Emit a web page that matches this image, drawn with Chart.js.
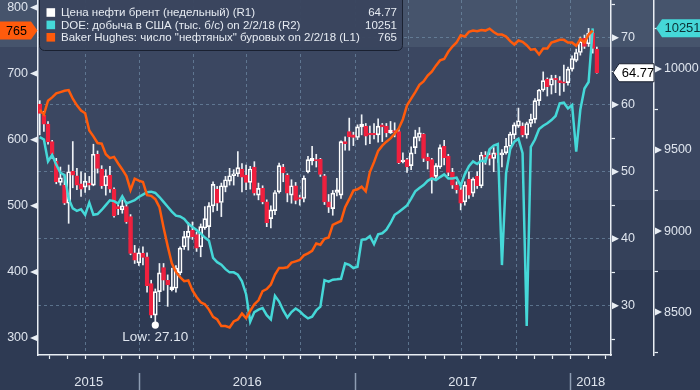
<!DOCTYPE html>
<html>
<head>
<meta charset="utf-8">
<script src="https://cdn.jsdelivr.net/npm/chart.js@4.4.1/dist/chart.umd.min.js"></script>
<style>
  html, body { margin: 0; padding: 0; background: #2e3a52; }
  #wrap { width: 700px; height: 390px; }
</style>
</head>
<body>
<div id="wrap"><canvas id="chart" width="700" height="390"></canvas></div>
<script>
// Brent, недельные свечи (неделя с 6.07.2015 по неделю 5.02.2018)
const BRENT_OPEN = [
  60.1, 58.4, 57.1, 54.5, 51.6, 48.4, 48.0, 45.3, 50.1, 49.4,
  48.2, 47.7, 48.3, 48.0, 52.6, 50.4, 47.9, 49.5, 47.4, 44.8,
  44.3, 44.8, 43.3, 37.9, 36.4, 37.8, 37.3, 33.3, 28.6, 32.1,
  35.7, 33.8, 32.4, 32.6, 34.9, 38.8, 40.2, 41.3, 40.6, 38.8,
  41.6, 41.8, 44.9, 47.4, 45.4, 47.7, 48.6, 49.4, 49.7, 50.4,
  49.5, 48.4, 50.7, 46.5, 47.5, 45.5, 43.0, 44.2, 47.0, 50.7,
  49.5, 46.5, 47.9, 46.1, 46.0, 50.0, 51.6, 51.8, 51.9, 49.4,
  45.5, 44.5, 46.9, 46.5, 54.5, 56.0, 55.5, 55.1, 56.7, 56.8,
  55.7, 55.7, 55.5, 57.0, 56.8, 55.8, 56.1, 56.0, 51.5, 51.8,
  50.9, 53.6, 55.1, 55.6, 52.2, 51.8, 49.3, 50.7, 53.8, 52.3,
  49.9, 48.0, 47.3, 45.5, 48.9, 46.8, 49.3, 47.9, 52.5, 52.5,
  52.0, 52.8, 52.5, 52.8, 53.8, 55.5, 56.8, 56.8, 55.5, 57.2,
  57.8, 60.6, 62.2, 63.8, 62.9, 63.9, 63.6, 63.4, 63.3, 65.3,
  66.6, 67.8, 69.9, 69.1, 70.7, 68.3
];
const BRENT_HIGH = [
  60.6, 59.0, 57.5, 54.7, 52.0, 50.7, 49.3, 51.0, 54.5, 50.5,
  50.0, 49.8, 49.3, 54.1, 53.1, 50.9, 50.3, 50.8, 47.6, 45.3,
  45.8, 45.5, 43.6, 39.0, 38.5, 38.8, 37.9, 33.8, 32.5, 36.3,
  36.3, 34.6, 35.6, 36.0, 38.8, 41.1, 42.4, 42.5, 41.0, 42.2,
  44.8, 45.4, 48.5, 47.8, 48.3, 49.3, 50.5, 50.3, 53.0, 51.2,
  51.0, 50.8, 51.5, 48.3, 47.9, 45.8, 44.9, 47.2, 51.3, 51.1,
  49.7, 48.8, 48.4, 46.5, 49.4, 52.3, 53.8, 52.6, 52.0, 49.6,
  46.6, 47.2, 49.0, 54.6, 55.2, 58.0, 55.9, 57.0, 58.5, 57.2,
  56.8, 57.2, 57.9, 57.2, 57.2, 57.5, 57.3, 56.3, 52.8, 52.0,
  53.7, 56.2, 56.6, 55.7, 52.7, 52.0, 51.2, 54.0, 54.7, 52.6,
  50.5, 48.5, 47.7, 48.5, 50.0, 49.1, 50.0, 52.9, 53.0, 53.3,
  53.6, 53.3, 53.3, 55.0, 55.9, 57.3, 59.5, 57.3, 57.4, 58.6,
  60.9, 62.3, 64.9, 64.0, 64.4, 64.4, 64.2, 65.9, 65.6, 67.3,
  68.3, 70.1, 70.4, 71.4, 71.1, 68.6
];
const BRENT_LOW = [
  55.5, 56.0, 54.1, 52.0, 48.2, 48.0, 45.1, 42.3, 47.6, 47.3,
  46.3, 46.9, 47.3, 47.9, 49.8, 47.5, 46.5, 46.9, 43.2, 43.6,
  43.8, 42.3, 37.6, 36.3, 36.0, 36.1, 32.0, 28.2, 27.1, 30.6,
  32.3, 29.9, 32.2, 32.0, 34.6, 38.4, 38.3, 39.9, 38.1, 37.3,
  41.4, 40.2, 44.0, 44.2, 43.3, 47.0, 48.0, 48.0, 49.3, 47.0,
  47.3, 47.4, 46.5, 45.8, 45.2, 41.8, 41.6, 43.6, 46.8, 48.5,
  45.5, 45.3, 45.2, 45.0, 45.5, 49.8, 51.0, 50.7, 49.3, 45.1,
  43.9, 43.5, 46.4, 46.0, 53.2, 53.2, 53.9, 54.8, 55.5, 54.0,
  54.2, 54.9, 54.4, 54.5, 55.2, 55.7, 55.2, 51.2, 51.3, 49.9,
  50.3, 52.7, 54.6, 51.5, 50.4, 46.8, 48.9, 50.5, 51.0, 49.4,
  47.5, 46.8, 44.3, 45.0, 46.0, 46.3, 47.5, 47.6, 51.1, 51.0,
  50.0, 51.4, 50.7, 52.6, 53.1, 54.9, 56.6, 55.2, 55.0, 56.7,
  57.3, 59.9, 62.0, 61.3, 61.6, 61.8, 61.4, 62.0, 62.9, 65.0,
  66.4, 67.4, 68.4, 68.7, 67.7, 64.7
];
const BRENT_CLOSE = [
  58.7, 57.1, 54.5, 52.6, 48.5, 49.1, 45.3, 50.0, 49.5, 48.0,
  47.4, 48.6, 48.0, 52.6, 50.5, 47.9, 49.4, 47.4, 43.4, 44.5,
  44.9, 42.5, 37.8, 36.8, 37.9, 37.2, 33.0, 28.6, 32.1, 34.9,
  33.8, 33.1, 32.8, 35.6, 38.6, 40.3, 41.1, 40.3, 38.6, 41.8,
  43.0, 44.9, 48.1, 45.3, 47.9, 48.8, 49.4, 49.7, 50.6, 49.2,
  48.4, 50.4, 46.8, 47.5, 45.5, 42.4, 44.3, 46.9, 50.9, 49.8,
  46.8, 47.9, 45.7, 45.9, 49.0, 51.8, 52.0, 51.6, 49.6, 45.5,
  44.7, 46.8, 47.3, 54.5, 54.2, 55.2, 55.1, 56.7, 57.1, 55.3,
  55.5, 55.5, 56.8, 56.7, 55.8, 56.2, 55.9, 51.3, 51.7, 50.7,
  52.8, 55.2, 55.8, 52.0, 51.6, 49.0, 50.9, 53.6, 52.1, 49.9,
  48.0, 47.3, 45.3, 48.0, 46.5, 48.9, 47.9, 52.5, 52.2, 52.0,
  52.8, 52.5, 52.8, 53.8, 55.6, 57.0, 57.6, 55.5, 57.2, 57.8,
  60.6, 62.2, 63.6, 62.7, 63.9, 63.7, 63.3, 63.2, 65.3, 66.9,
  67.8, 69.4, 68.7, 70.7, 68.4, 64.77
];

// Baker Hughes, нефтяные буровые (10.07.2015 - 2.02.2018)
const RIGS = [
  645, 638, 659, 664, 670, 672, 674, 675, 662, 652, 644, 640, 614,
  605, 595, 594, 578, 572, 574, 564, 555, 545, 524, 541, 538, 536,
  516, 515, 510, 498, 467, 439, 413, 400, 392, 386, 387, 372, 362,
  354, 351, 343, 332, 328, 318, 318, 316, 325, 328, 337, 330, 341,
  351, 357, 371, 374, 381, 396, 406, 406, 407, 414, 416, 418, 425,
  428, 432, 443, 441, 450, 452, 471, 474, 477, 498, 510, 523, 525,
  529, 522, 551, 566, 583, 591, 597, 602, 609, 617, 631, 652, 662,
  672, 683, 688, 697, 703, 712, 720, 722, 733, 741, 747, 758, 756,
  763, 765, 764, 766, 765, 768, 763, 759, 759, 756, 749, 744, 750,
  748, 743, 736, 737, 729, 738, 738, 747, 749, 751, 751, 747, 747,
  742, 752, 747, 759, 765
];

// DOE, добыча нефти в США, тыс. б/с
const DOE = [
  9580, 9565, 9430, 9470, 9410, 9360, 9345, 9200, 9140, 9125,
  9135, 9100, 9175, 9100, 9105, 9130, 9160, 9190, 9185, 9170,
  9215, 9170, 9180, 9190, 9210, 9225, 9240, 9243, 9235, 9210,
  9180, 9150, 9120, 9095, 9090, 9075, 9045, 9025, 9006, 8985,
  8960, 8940, 8835, 8808, 8792, 8765, 8745, 8745, 8730, 8690,
  8610, 8440, 8500, 8515, 8525, 8481, 8455, 8600, 8565, 8510,
  8467, 8500, 8522, 8505, 8480, 8461, 8471, 8510, 8533, 8697,
  8688, 8700, 8702, 8705, 8800, 8792, 8772, 8780, 8946, 8949,
  8968, 8920, 8980, 8986, 9008, 9050, 9100, 9118, 9138, 9158,
  9200, 9245, 9266, 9284, 9310, 9325, 9315, 9333, 9350, 9325,
  9325, 9330, 9280, 9350, 9400, 9430, 9414, 9435, 9428, 9505,
  9528, 9537, 8790, 9356, 9505, 9552, 9570, 9480, 8414, 9520,
  9565, 9630, 9650, 9665, 9685, 9710, 9788, 9792, 9757, 9778,
  9490, 9750, 9880, 9920, 10251
];

const RIG_TICKS = [300, 400, 500, 600, 700, 800];
const BRENT_TICKS = [30, 40, 50, 60, 70];
const BRENT_MINOR = [25, 35, 45, 55, 65, 75];
const DOE_TICKS = [8500, 9000, 9500, 10000];
const DOE_MINOR = [8250, 8750, 9250, 9750, 10250];
const YEARS = ['2015', '2016', '2017', '2018'];

const LEGEND = [
  'Цена нефти брент (недельный) (R1)',
  'DOE: добыча в США (тыс. б/с) on 2/2/18 (R2)',
  'Baker Hughes: число "нефтяных" буровых on 2/2/18 (L1)'
];

// ---- цвета / шрифты ----
const FONT = '"Liberation Sans", Arial, sans-serif';
const TEXT = '#dfe5ee';
const AXIS = '#e9eef4';
const GRID = 'rgba(115,145,170,0.65)';
const RED = '#f0203e';
const ORANGE = '#ff5b0c';
const CYAN = '#45d8d8';
const BANDS = [[0, 47, '#46546c'], [47, 200, '#3b4761'], [200, 270, '#35415a'], [270, 390, '#2e3a53']];

// ---- ось времени: дни от 1.01.2016 ----
const DAY = 86400000;
const ORIGIN = Date.UTC(2016, 0, 1);
const dayOf = (y, m, d) => (Date.UTC(y, m - 1, d) - ORIGIN) / DAY;
const FIRST_WEEK = dayOf(2015, 7, 10);
const BAR_SHIFT = 6; // недельный бар стоит чуть правее пятницы
const weekX = i => FIRST_WEEK + 7 * i + BAR_SHIFT;
const X_MIN = dayOf(2015, 7, 13);
const X_MAX = dayOf(2018, 3, 11);

const YEAR_EDGES = [X_MIN, dayOf(2016, 1, 1), dayOf(2017, 1, 1), dayOf(2018, 1, 1), X_MAX];
const monthTicks = [];
const quarterSet = new Set();
for (let y = 2015, m = 8; y < 2018 || m <= 3; ) {
  const v = dayOf(y, m, 1);
  monthTicks.push(v);
  if (m % 3 === 1) quarterSet.add(v);
  if (++m > 12) { m = 1; y++; }
}
const yearLabelAt = new Map();
YEARS.forEach((t, i) => yearLabelAt.set((YEAR_EDGES[i] + YEAR_EDGES[i + 1]) / 2, t));
const xTicks = monthTicks.concat([...yearLabelAt.keys()]).sort((a, b) => a - b);

// ---- данные для наборов ----
const bodies = BRENT_OPEN.map((o, i) => ({ x: weekX(i), y: [o, BRENT_CLOSE[i]] }));
const upper = BRENT_OPEN.map((o, i) => ({ x: weekX(i), y: [Math.max(o, BRENT_CLOSE[i]), BRENT_HIGH[i]] }));
const lower = BRENT_OPEN.map((o, i) => ({ x: weekX(i), y: [BRENT_LOW[i], Math.min(o, BRENT_CLOSE[i])] }));
const isUp = BRENT_OPEN.map((o, i) => BRENT_CLOSE[i] >= o);

function tri(ctx, x, y, w) {
  ctx.beginPath();
  ctx.moveTo(x, y - 3.5);
  ctx.lineTo(x + w, y);
  ctx.lineTo(x, y + 3.5);
  ctx.closePath();
  ctx.fill();
}

// ярлык последнего значения со стрелкой к оси
function tag(ctx, tipX, y, bodyX0, bodyX1, fill, stroke, text, color) {
  const h = 9;
  ctx.beginPath();
  if (tipX > bodyX1) {
    ctx.moveTo(bodyX0, y - h); ctx.lineTo(bodyX1, y - h); ctx.lineTo(tipX, y);
    ctx.lineTo(bodyX1, y + h); ctx.lineTo(bodyX0, y + h);
  } else {
    ctx.moveTo(tipX, y); ctx.lineTo(bodyX0, y - h); ctx.lineTo(bodyX1, y - h);
    ctx.lineTo(bodyX1, y + h); ctx.lineTo(bodyX0, y + h);
  }
  ctx.closePath();
  ctx.fillStyle = fill;
  ctx.fill();
  if (stroke) { ctx.strokeStyle = stroke; ctx.lineWidth = 1; ctx.stroke(); }
  ctx.fillStyle = color;
  ctx.textAlign = 'center';
  ctx.textBaseline = 'middle';
  ctx.fillText(text, (bodyX0 + bodyX1) / 2 + (tipX > bodyX1 ? 1 : 1.5), y + 0.5);
}

const decor = {
  id: 'decor',
  beforeDraw(chart) {
    const ctx = chart.ctx;
    ctx.save();
    BANDS.forEach(([y0, y1, c]) => { ctx.fillStyle = c; ctx.fillRect(0, y0, chart.width, y1 - y0); });
    ctx.restore();
  },
  afterDraw(chart) {
    const { ctx, chartArea: a } = chart;
    const { x, yL, yR1, yR2 } = chart.scales;
    ctx.save();

    // треугольные метки на осях
    ctx.fillStyle = AXIS;
    RIG_TICKS.forEach(v => tri(ctx, a.left, yL.getPixelForValue(v), -8));
    BRENT_TICKS.forEach(v => tri(ctx, a.right + 1, yR1.getPixelForValue(v), 7));
    DOE_TICKS.forEach(v => tri(ctx, yR2.left + 1, yR2.getPixelForValue(v), 7));

    // разделители лет под осью
    ctx.strokeStyle = '#8e9db3';
    ctx.lineWidth = 1.5;
    YEAR_EDGES.slice(1, -1).forEach(v => {
      const px = Math.round(x.getPixelForValue(v)) + 0.5;
      ctx.beginPath(); ctx.moveTo(px, 373); ctx.lineTo(px, 390); ctx.stroke();
    });

    // минимум цены
    let lo = 0;
    BRENT_LOW.forEach((v, i) => { if (v < BRENT_LOW[lo]) lo = i; });
    const lx = x.getPixelForValue(weekX(lo)), ly = yR1.getPixelForValue(BRENT_LOW[lo]);
    ctx.fillStyle = '#ffffff';
    ctx.beginPath(); ctx.arc(lx, ly, 3.6, 0, Math.PI * 2); ctx.fill();
    ctx.font = '13.5px ' + FONT;
    ctx.fillStyle = TEXT;
    ctx.textAlign = 'center';
    ctx.textBaseline = 'middle';
    ctx.fillText('Low: ' + BRENT_LOW[lo].toFixed(2), lx, ly + 12.5);

    // последние значения
    const lastRig = RIGS[RIGS.length - 1];
    const lastDoe = DOE[DOE.length - 1];
    const lastBrent = BRENT_CLOSE[BRENT_CLOSE.length - 1];
    ctx.font = '12.5px ' + FONT;
    tag(ctx, a.left - 0.5, yL.getPixelForValue(lastRig), 0, a.left - 7, ORANGE, null, String(lastRig), '#000000');
    ctx.font = '13px ' + FONT;
    tag(ctx, a.right + 2, yR1.getPixelForValue(lastBrent), a.right + 8, yR2.left, '#ffffff', '#1b2232', lastBrent.toFixed(2), '#000000');
    tag(ctx, yR2.left + 2, yR2.getPixelForValue(lastDoe), yR2.left + 8, 700, CYAN, null, String(lastDoe), '#0c3035');

    // легенда
    const bx = 39.5, by = -6, bw = 363, bh = 56.5;
    ctx.beginPath();
    if (ctx.roundRect) ctx.roundRect(bx, by, bw, bh, 5); else ctx.rect(bx, by, bw, bh);
    ctx.fillStyle = 'rgba(57,69,94,0.96)';
    ctx.fill();
    ctx.strokeStyle = '#1a2131';
    ctx.lineWidth = 1;
    ctx.stroke();
    const sw = ['#ffffff', CYAN, ORANGE];
    const vals = [lastBrent.toFixed(2), String(lastDoe), String(lastRig)];
    ctx.font = '11.5px ' + FONT;
    ctx.textBaseline = 'middle';
    LEGEND.forEach((t, i) => {
      const cy = 12.5 + i * 12.4;
      ctx.fillStyle = sw[i];
      ctx.fillRect(46.5, cy - 4.3, 8.6, 8.6);
      ctx.fillStyle = '#e6ebf2';
      ctx.textAlign = 'left';
      ctx.fillText(t, 61, cy + 0.5);
      ctx.textAlign = 'right';
      ctx.fillText(vals[i], 397, cy + 0.5);
    });
    ctx.restore();
  }
};

const tickFont = { family: FONT, size: 12.5 };

new Chart(document.getElementById('chart'), {
  type: 'line',
  data: {
    datasets: [
      {
        type: 'line', label: LEGEND[2], yAxisID: 'yL', order: 0,
        data: RIGS.map((v, i) => ({ x: weekX(i), y: v })),
        borderColor: ORANGE, borderWidth: 2.5, pointRadius: 0, tension: 0
      },
      {
        type: 'line', label: LEGEND[1], yAxisID: 'yR2', order: 1,
        data: DOE.map((v, i) => ({ x: weekX(i), y: v })),
        borderColor: CYAN, borderWidth: 2.5, pointRadius: 0, tension: 0
      },
      {
        type: 'bar', label: 'body', yAxisID: 'yR1', order: 2, grouped: false,
        data: bodies, barThickness: 4, minBarLength: 1.5, borderSkipped: false,
        backgroundColor: isUp.map(u => u ? 'rgba(0,0,0,0)' : RED),
        borderColor: isUp.map(u => u ? '#ffffff' : RED),
        borderWidth: 1
      },
      {
        type: 'bar', label: 'wickHi', yAxisID: 'yR1', order: 3, grouped: false,
        data: upper, barThickness: 1, borderWidth: 0, backgroundColor: '#eef2f6'
      },
      {
        type: 'bar', label: 'wickLo', yAxisID: 'yR1', order: 3, grouped: false,
        data: lower, barThickness: 1, borderWidth: 0, backgroundColor: '#eef2f6'
      }
    ]
  },
  options: {
    responsive: false,
    animation: false,
    devicePixelRatio: 1,
    events: [],
    layout: { padding: 0 },
    plugins: { legend: { display: false }, tooltip: { enabled: false } },
    scales: {
      x: {
        type: 'linear', position: 'bottom', min: X_MIN, max: X_MAX, offset: false,
        afterBuildTicks: s => { s.ticks = xTicks.map(v => ({ value: v })); },
        ticks: {
          autoSkip: false, maxRotation: 0, padding: 16, color: TEXT,
          font: { family: FONT, size: 13 },
          callback: v => yearLabelAt.get(v) || ''
        },
        grid: {
          offset: false,
          color: c => (c.tick && quarterSet.has(c.tick.value)) ? GRID : 'rgba(0,0,0,0)',
          tickColor: c => (c.tick && yearLabelAt.has(c.tick.value)) ? 'rgba(0,0,0,0)' : AXIS,
          tickLength: 4, lineWidth: 1, tickWidth: 1.2
        },
        border: { color: AXIS, width: 1.5, dash: [3, 3] },
        afterFit: s => { s.height = 35; s.paddingLeft = 0; s.paddingRight = 0; }
      },
      yL: {
        type: 'linear', position: 'left', min: 274.3, max: 811.3,
        afterBuildTicks: s => { s.ticks = RIG_TICKS.map(v => ({ value: v })); },
        ticks: { color: TEXT, font: tickFont, padding: 10 },
        grid: { drawOnChartArea: false, drawTicks: false },
        border: { color: AXIS, width: 1.5 },
        afterFit: s => { s.width = 38; s.paddingTop = 0; s.paddingBottom = 0; }
      },
      yR1: {
        type: 'linear', position: 'right', weight: 0, min: 22.64, max: 75.63,
        afterBuildTicks: s => { s.ticks = BRENT_TICKS.concat(BRENT_MINOR).sort((a, b) => a - b).map(v => ({ value: v })); },
        ticks: { color: TEXT, font: tickFont, padding: 6, callback: v => BRENT_TICKS.includes(v) ? String(v) : '' },
        grid: {
          color: c => (c.tick && BRENT_TICKS.includes(c.tick.value)) ? GRID : 'rgba(0,0,0,0)',
          tickColor: c => (c.tick && BRENT_MINOR.includes(c.tick.value)) ? AXIS : 'rgba(0,0,0,0)',
          tickLength: 4, lineWidth: 1, tickWidth: 1.2
        },
        border: { color: AXIS, width: 1.5, dash: [3, 3] },
        afterFit: s => { s.width = 43; s.paddingTop = 0; s.paddingBottom = 0; }
      },
      yR2: {
        type: 'linear', position: 'right', weight: 1, min: 8235, max: 10426,
        afterBuildTicks: s => { s.ticks = DOE_TICKS.concat(DOE_MINOR).sort((a, b) => a - b).map(v => ({ value: v })); },
        ticks: { color: TEXT, font: tickFont, padding: 6, callback: v => DOE_TICKS.includes(v) ? String(v) : '' },
        grid: {
          drawOnChartArea: false,
          tickColor: c => (c.tick && DOE_MINOR.includes(c.tick.value)) ? AXIS : 'rgba(0,0,0,0)',
          tickLength: 4, tickWidth: 1.2
        },
        border: { color: AXIS, width: 1.5 },
        afterFit: s => { s.width = 46; s.paddingTop = 0; s.paddingBottom = 0; }
      }
    }
  },
  plugins: [decor]
});
</script>
</body>
</html>
